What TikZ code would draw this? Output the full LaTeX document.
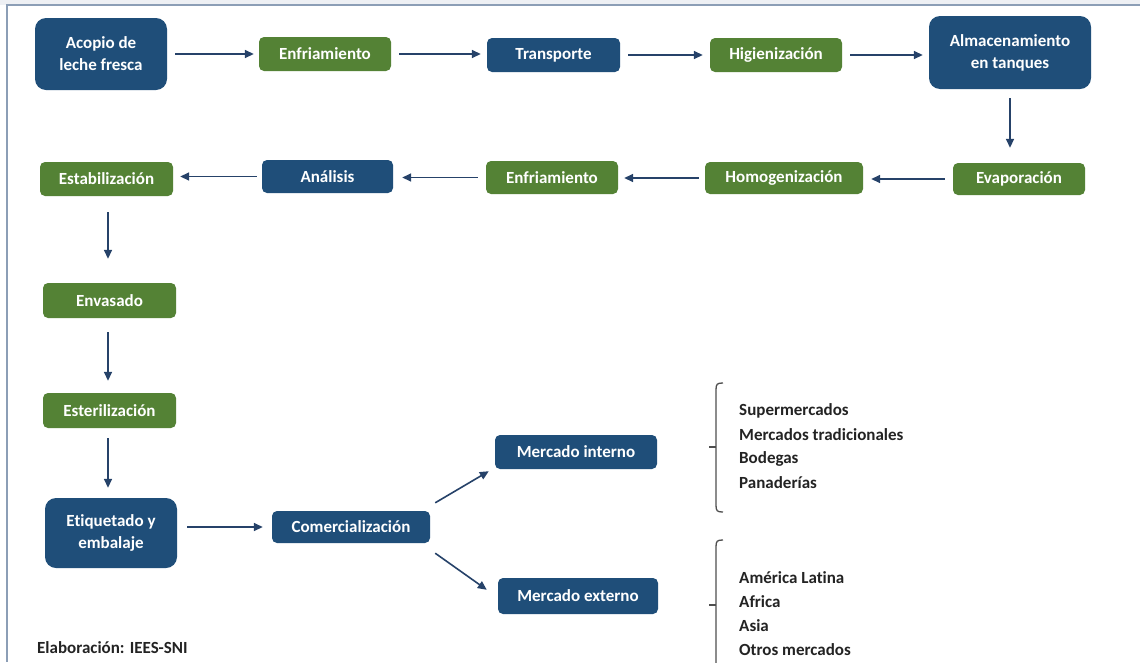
\documentclass[tikz,border=0pt]{standalone}
\usepackage{fontspec}
\setmainfont{Carlito}[Ligatures=NoCommon]
\usetikzlibrary{arrows.meta}
\definecolor{dblue}{RGB}{31,78,121}
\definecolor{dgreen}{RGB}{84,130,53}
\definecolor{arrowc}{RGB}{38,66,105}
\definecolor{framec}{RGB}{140,158,182}
\definecolor{txt}{RGB}{35,35,35}
\tikzset{
  boxbase/.style={rectangle, rounded corners=5pt, text=white, font=\bfseries\fontsize{17}{22}\selectfont, align=center, inner sep=0pt},
  bluebox/.style={boxbase, fill=dblue},
  greenbox/.style={boxbase, fill=dgreen},
  bigbox/.style={rounded corners=11pt},
  flow/.style={draw=arrowc, line width=1.6pt, -{Triangle[length=9pt,width=8pt]}},
  brace/.style={draw=txt!80, line width=1.3pt},
  listtxt/.style={anchor=west, text=txt, font=\bfseries\fontsize{17}{20}\selectfont, inner sep=0pt}
}
\begin{document}
\begin{tikzpicture}[x=1pt,y=1pt]
\useasboundingbox (0,0) rectangle (1140,-662);
\fill[white] (0,0) rectangle (1140,-662);
\fill[framec!15] (0,0) rectangle (1140,-5);
\clip (0,0) rectangle (1140,-662);
\draw[framec, line width=1.5pt] (1140,-5) -- (7,-5) -- (7,-662);

% row 1
\node[bluebox, bigbox, minimum width=132pt, minimum height=72pt] (acopio) at (101,-54) {Acopio de\\leche fresca};
\node[greenbox, minimum width=132pt, minimum height=34pt] (enf1) at (325,-54) {Enfriamiento};
\node[bluebox, minimum width=133pt, minimum height=34pt] (transp) at (553.5,-55) {Transporte};
\node[greenbox, minimum width=132pt, minimum height=34pt] (hig) at (776,-55) {Higienización};
\node[bluebox, bigbox, minimum width=162pt, minimum height=73pt] (alm) at (1010,-52.5) {Almacenamiento\\en tanques};

% row 2
\node[greenbox, minimum width=132pt, minimum height=32pt] (evap) at (1019,-179) {Evaporación};
\node[greenbox, minimum width=158pt, minimum height=32pt] (homo) at (784,-178) {Homogenización};
\node[greenbox, minimum width=132pt, minimum height=33pt] (enf2) at (552,-177.5) {Enfriamiento};
\node[bluebox, minimum width=131pt, minimum height=33pt] (anal) at (327.5,-176.5) {Análisis};
\node[greenbox, minimum width=133pt, minimum height=34pt] (estab) at (106.5,-179) {Estabilización};

% column
\node[greenbox, minimum width=133pt, minimum height=35pt] (envas) at (109.5,-300.5) {Envasado};
\node[greenbox, minimum width=133pt, minimum height=35pt] (ester) at (109.5,-410.5) {Esterilización};
\node[bluebox, bigbox, minimum width=132pt, minimum height=70pt] (etiq) at (111,-533) {Etiquetado y\\embalaje};

% commercial
\node[bluebox, minimum width=158pt, minimum height=32pt] (comer) at (351,-527) {Comercialización};
\node[bluebox, minimum width=162pt, minimum height=34pt] (mint) at (576,-452) {Mercado interno};
\node[bluebox, minimum width=160pt, minimum height=36pt] (mext) at (578,-596) {Mercado externo};

% arrows row 1
\draw[flow, shorten <=8pt, shorten >=5pt] (acopio.east |- enf1.west) -- (enf1.west);
\draw[flow, shorten <=8pt, shorten >=6pt] (enf1.east) -- (enf1.east -| transp.west);
\draw[flow, shorten <=8pt, shorten >=7pt] (transp.east) -- (transp.east -| hig.west);
\draw[flow, shorten <=8pt, shorten >=6pt] (hig.east) -- (hig.east -| alm.west);
\draw[flow, shorten <=9pt, shorten >=15pt] (alm.south) -- (alm.south |- evap.north);

% arrows row 2
\draw[flow, shorten <=8pt, shorten >=8pt] (evap.west) -- (evap.west -| homo.east);
\draw[flow, shorten <=6pt, shorten >=6pt] (homo.west) -- (homo.west -| enf2.east);
\draw[flow, shorten <=8pt, shorten >=9pt] (enf2.west) -- (enf2.west -| anal.east);
\draw[flow, shorten <=5pt, shorten >=7pt] (anal.west) -- (anal.west -| estab.east);

% column arrows
\coordinate (cx) at (108,0);
\draw[flow, shorten <=16pt, shorten >=24pt] (cx |- estab.south) -- (cx |- envas.north);
\draw[flow, shorten <=14pt, shorten >=12pt] (cx |- envas.south) -- (cx |- ester.north);
\draw[flow, shorten <=10pt, shorten >=10pt] (cx |- ester.south) -- (cx |- etiq.north);
\draw[flow, shorten <=10pt, shorten >=9pt] (etiq.east |- comer.west) -- (comer.west);

% branch arrows
\draw[flow] ([shift={(5pt,8pt)}]comer.north east) -- ([shift={(-6pt,-2pt)}]mint.south west);
\draw[flow] ([shift={(5pt,-10pt)}]comer.south east) -- ([shift={(-11pt,-12pt)}]mext.north west);

% brackets
\draw[brace] (723,-383) .. controls (717,-383) and (716,-384) .. (716,-390) -- (716,-505) .. controls (716,-511) and (717,-512) .. (723,-512);
\draw[brace] (709,-447) -- (716,-447);
\draw[brace] (723,-540) .. controls (717,-540) and (716,-541) .. (716,-547) -- (716,-670);
\draw[brace] (709,-605) -- (716,-605);

% lists
\node[listtxt] (l1) at (739,-411) {Supermercados};
\node[listtxt] (l2) at (739,-435) {Mercados tradicionales};
\node[listtxt] (l3) at (739,-459) {Bodegas};
\node[listtxt] (l4) at (739,-483) {Panaderías};
\node[listtxt] (l5) at (739,-578) {América Latina};
\node[listtxt] (l6) at (739,-602) {Africa};
\node[listtxt] (l7) at (739,-626) {Asia};
\node[listtxt] (l8) at (739,-650) {Otros mercados};

\node[listtxt] (src) at (37,-648) {Elaboración: IEES-SNI};
\end{tikzpicture}
\end{document}
